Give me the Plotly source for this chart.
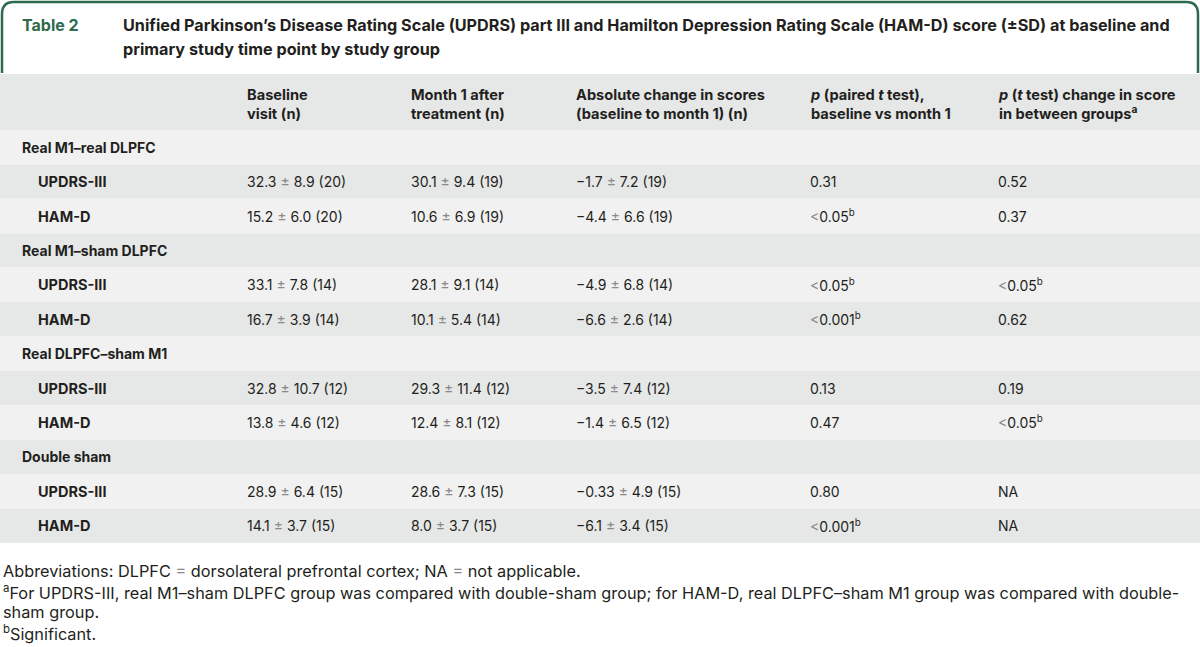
import plotly.graph_objects as go

# ---------------- data ----------------
table_label = "Table 2"
title_lines = [
    "Unified Parkinson’s Disease Rating Scale (UPDRS) part III and Hamilton Depression Rating Scale (HAM-D) score (±SD) at baseline and",
    "primary study time point by study group",
]
header_cols = [
    ["Baseline", "visit (n)"],
    ["Month 1 after", "treatment (n)"],
    ["Absolute change in scores", "(baseline to month 1) (n)"],
    ["<i>p</i> (paired <i>t</i> test),", "baseline vs month 1"],
    ["<i>p</i> (<i>t</i> test) change in score", "in between groups<sup>a</sup>"],
]
groups = ["Real M1–real DLPFC", "Real M1–sham DLPFC", "Real DLPFC–sham M1", "Double sham"]
measures = ["UPDRS-III", "HAM-D"]

baseline_mean = [32.3, 15.2, 33.1, 16.7, 32.8, 13.8, 28.9, 14.1]
baseline_sd = [8.9, 6.0, 7.8, 3.9, 10.7, 4.6, 6.4, 3.7]
baseline_n = [20, 20, 14, 14, 12, 12, 15, 15]

month1_mean = [30.1, 10.6, 28.1, 10.1, 29.3, 12.4, 28.6, 8.0]
month1_sd = [9.4, 6.9, 9.1, 5.4, 11.4, 8.1, 7.3, 3.7]
month1_n = [19, 19, 14, 14, 12, 12, 15, 15]

change_mean = [-1.7, -4.4, -4.9, -6.6, -3.5, -1.4, -0.33, -6.1]
change_sd = [7.2, 6.6, 6.8, 2.6, 7.4, 6.5, 4.9, 3.4]
change_n = [19, 19, 14, 14, 12, 12, 15, 15]

p_paired = ["0.31", "<0.05", "<0.05", "<0.001", "0.13", "0.47", "0.80", "<0.001"]
p_paired_sig = [False, True, True, True, False, False, False, True]
p_between = ["0.52", "0.37", "<0.05", "0.62", "0.19", "<0.05", "NA", "NA"]
p_between_sig = [False, False, True, False, False, True, False, False]

footnotes = [
    "Abbreviations: DLPFC <span style='color:#888888'>=</span> dorsolateral prefrontal cortex; NA <span style='color:#888888'>=</span> not applicable.",
    "<sup>a</sup>For UPDRS-III, real M1–sham DLPFC group was compared with double-sham group; for HAM-D, real DLPFC–sham M1 group was compared with double-",
    "sham group.",
    "<sup>b</sup>Significant.",
]

# ---------------- style ----------------
W, H = 1200, 647
GREEN = "#2e6b4e"
TXT = "#231f20"
LIGHT = "#f1f1f1"
DARK = "#e6e7e7"
HEADER_BG = "#e6e7e7"
FONT = "Inter"
HEADER_TOP, HEADER_BOT = 74, 130
ROW_H = 34.4
COL_X = [20, 245, 409, 574, 808, 996]
INDENT_X = 36
PM = "<span style='color:#8a8a8a'> ± </span>"
LT = "<span style='color:#8a8a8a'>&lt;</span>"


def fmt(v):
    s = f"{abs(v):.2f}".rstrip("0")
    if s.endswith("."):
        s += "0"
    return ("−" if v < 0 else "") + s


def msd(m, sd, n):
    return f"{fmt(m)}{PM}{fmt(sd)} ({n})"


def pval(s, sig):
    out = s.replace("<", LT)
    if sig:
        out += "<sup>b</sup>"
    return out


fig = go.Figure()
shapes = []
ann = []


def text(x, y, t, size=14, color=TXT, bold=False):
    ann.append(dict(
        x=x, y=y, xref="x", yref="y", text=(f"<b>{t}</b>" if bold else t),
        showarrow=False, xanchor="left", yanchor="middle", align="left",
        font=dict(family=FONT, size=size, color=color),
    ))


# title frame
shapes.append(dict(
    type="path", xref="x", yref="y",
    path="M 2,73 L 2,14 Q 2,2 14,2 L 1186,2 Q 1198,2 1198,14 L 1198,73",
    line=dict(color=GREEN, width=2.5),
))
text(20, 25, table_label, size=16, color=GREEN, bold=True)
for i, line in enumerate(title_lines):
    text(121, 25 + i * 24, line, size=16.2, bold=True)

# header
shapes.append(dict(type="rect", xref="x", yref="y", x0=0, x1=W, y0=HEADER_TOP, y1=HEADER_BOT,
                   fillcolor=HEADER_BG, line=dict(width=0), layer="below"))
for c, lines in enumerate(header_cols):
    text(COL_X[c + 1], 104.5, "<br>".join(lines), size=14.6, bold=True)

# body rows
rows = []
k = 0
for g in groups:
    rows.append(("group", g, None))
    for m in measures:
        rows.append(("data", m, k))
        k += 1

for r, (kind, label, idx) in enumerate(rows):
    y0 = HEADER_BOT + r * ROW_H
    shapes.append(dict(type="rect", xref="x", yref="y", x0=0, x1=W, y0=y0, y1=y0 + ROW_H,
                       fillcolor=(LIGHT if r % 2 == 0 else DARK), line=dict(width=0), layer="below"))
    yc = y0 + ROW_H / 2
    if kind == "group":
        text(COL_X[0], yc, label, size=14, bold=True)
    else:
        text(INDENT_X, yc, label, size=14.5, bold=True)
        text(COL_X[1], yc, msd(baseline_mean[idx], baseline_sd[idx], baseline_n[idx]))
        text(COL_X[2], yc, msd(month1_mean[idx], month1_sd[idx], month1_n[idx]))
        text(COL_X[3], yc, msd(change_mean[idx], change_sd[idx], change_n[idx]))
        text(COL_X[4], yc, pval(p_paired[idx], p_paired_sig[idx]))
        text(COL_X[5], yc, pval(p_between[idx], p_between_sig[idx]))

# footnotes
for i, fn in enumerate(footnotes):
    text(1, 571 + i * 20.6, fn, size=16.3)

fig.update_layout(
    width=W, height=H, margin=dict(l=0, r=0, t=0, b=0),
    paper_bgcolor="white", plot_bgcolor="white",
    xaxis=dict(range=[0, W], visible=False, fixedrange=True),
    yaxis=dict(range=[H, 0], visible=False, fixedrange=True),
    shapes=shapes, annotations=ann, showlegend=False,
)
fig.write_html("out.html", config={"displayModeBar": False},
               post_script="document.body.style.margin='0';document.body.style.overflow='hidden';")
